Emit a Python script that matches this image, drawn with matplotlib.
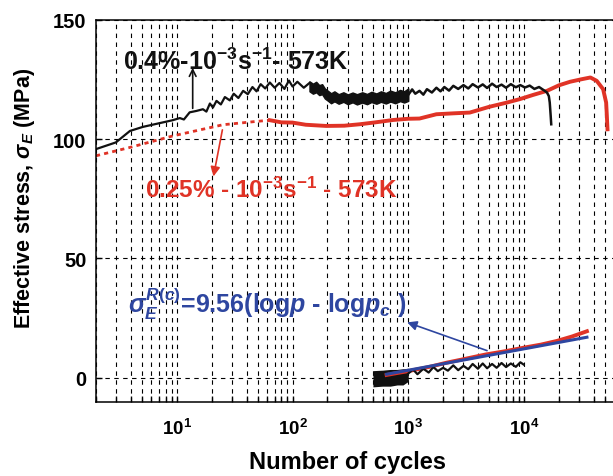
import matplotlib
matplotlib.use('Agg')
import matplotlib.pyplot as plt

# --- data ---
# 0.4 % test, upper curve (cycles, MPa)
black_x = [2, 2.97, 3.93, 5.08, 7.6, 9.2, 10.6, 11.5, 12.9, 14.8, 16.8, 18, 19.3, 20.5, 22, 24, 26,
           28.7, 31, 34, 37.4, 41, 45, 48.8, 53, 58, 63.6, 70, 77, 85, 93, 100, 110, 125, 140]
black_y = [95.8, 98.6, 103.4, 105.1, 107.0, 107.9, 108.8, 108.2, 111.2, 111.8, 112.5, 111.5, 114.9,
           113.2, 116.0, 114.5, 117.6, 116.2, 119.0, 117.2, 120.2, 118.8, 121.8, 120.0, 123.0, 121.2,
           123.7, 121.5, 123.5, 121.0, 124.5, 122.0, 124.0, 121.5, 123.5]
# dense part of the upper black curve (envelope, ragged edges)
band_x = [140, 150, 160, 170, 180, 190, 200, 215, 230, 250, 275, 300, 330, 360, 400, 440, 480, 530,
          580, 640, 700, 770, 850, 920, 1000]
band_lo = [120.0, 119.0, 119.6, 118.4, 118.8, 117.0, 116.2, 115.0, 115.8, 114.8, 115.6, 114.6, 115.4,
           114.5, 115.3, 114.6, 115.5, 114.8, 115.6, 114.9, 115.7, 115.0, 115.9, 115.3, 116.0]
band_hi = [124.2, 123.2, 124.0, 122.6, 123.0, 121.2, 120.4, 119.2, 120.0, 118.8, 119.6, 118.7, 119.5,
           118.8, 119.6, 118.9, 119.8, 119.1, 120.0, 119.3, 120.3, 119.6, 120.6, 120.0, 121.2]
black_x2 = [1000, 1080, 1150, 1250, 1350, 1450, 1600, 1750, 1900, 2050, 2250, 2450, 2700, 3000, 3300,
            3600, 4000, 4400, 4800, 5300, 5800, 6400, 7000, 7700, 8500, 9300, 10200, 11200, 12300,
            13500, 14800, 15800, 16400, 16700, 17000, 17200]
black_y2 = [118.5, 120.8, 119.0, 120.2, 118.6, 120.9, 119.5, 121.5, 120.0, 121.8, 120.3, 122.3, 121.0,
            122.6, 121.2, 123.0, 121.6, 122.9, 121.4, 123.2, 121.8, 122.8, 121.5, 123.0, 121.7, 122.6,
            121.6, 122.4, 121.0, 121.8, 120.5, 119.5, 118.0, 115.3, 110.0, 106.2]

# 0.25 % test, upper curve
red_dot_x = [2, 3.93, 9.2, 25, 48.8, 63.6]
red_dot_y = [93.0, 96.5, 101.3, 106.0, 107.4, 107.9]
red_x = [63.6, 80, 100, 130, 195, 280, 380, 520, 740, 1000, 1250, 1750, 2500, 3400, 5000, 7000, 9160,
         12000, 15800, 20000, 25000, 31000, 37500, 42500, 48300, 51300, 52000, 52700]
red_y = [107.9, 107.0, 106.9, 106.0, 105.5, 105.6, 106.2, 107.0, 108.0, 108.5, 108.6, 110.4, 110.8,
         111.1, 113.5, 115.2, 116.7, 118.5, 120.2, 122.5, 124.0, 125.0, 125.8, 124.4, 120.9, 115.3,
         110.0, 104.1]

# lower curves (R(c) part)
low_band_x = [495, 600, 700, 800, 900, 1000]
low_band_lo = [-3.8, -3.5, -3.5, -3.0, -3.0, -1.5]
low_band_hi = [3.0, 3.2, 3.5, 3.5, 3.8, 4.0]
black_low_x = [1000, 1100, 1200, 1350, 1500, 1650, 1800, 2000, 2200, 2450, 2700, 3000, 3300, 3600,
               4000, 4400, 4800, 5300, 5800, 6400, 7000, 7700, 8500, 9300, 9900]
black_low_y = [1.8, 3.5, 1.5, 3.8, 2.2, 4.5, 2.8, 4.2, 3.0, 5.2, 3.2, 5.0, 3.6, 5.8, 3.8, 6.0, 4.0,
               5.8, 4.2, 6.2, 4.5, 6.0, 4.6, 6.5, 5.6]
red_low_x = [650, 800, 1000, 1500, 2130, 3000, 4700, 7000, 9900, 14000, 19100, 26000, 35000]
red_low_y = [1.2, 2.0, 2.8, 4.5, 6.3, 7.8, 9.8, 11.2, 12.6, 13.9, 15.4, 17.3, 19.5]
fit_x = [650, 35000]
fit_y = [1.5, 17.0]

RED = '#e03326'
BLUE = '#2e46a0'
BLACK = '#111111'

plt.rcParams.update({
    'font.family': 'Liberation Sans',
    'font.weight': 'bold',
    'mathtext.fontset': 'custom',
    'mathtext.rm': 'Liberation Sans:bold',
    'mathtext.it': 'Liberation Sans:italic:bold',
    'mathtext.bf': 'Liberation Sans:bold',
    'mathtext.default': 'rm',
})

fig = plt.figure(figsize=(6.13, 4.77), dpi=100)
ax = fig.add_axes([0.1566, 0.1558, 0.8434, 0.8008])

# upper curves
ax.plot(red_dot_x, red_dot_y, color=RED, lw=2, linestyle=(0, (1.5, 1.5)))
ax.plot(red_x, red_y, color=RED, lw=2.8)
ax.plot(black_x, black_y, color=BLACK, lw=1.6)
ax.fill_between(band_x, band_lo, band_hi, color=BLACK, lw=1.0, edgecolor=BLACK)
ax.plot(black_x2, black_y2, color=BLACK, lw=1.8)

# lower curves
ax.plot(red_low_x, red_low_y, color=RED, lw=2.8)
ax.fill_between(low_band_x, low_band_lo, low_band_hi, color=BLACK, lw=0)
ax.plot(black_low_x, black_low_y, color=BLACK, lw=1.6)
ax.plot(fit_x, fit_y, color=BLUE, lw=2.2)

ax.set_xscale('log')
ax.set_xlim(2, 58800)
ax.set_ylim(-10, 150)
ax.set_yticks([0, 50, 100, 150])

ax.grid(True, which='both', axis='x', color='k', lw=0.8, linestyle=(0, (4, 4)))
ax.grid(True, which='major', axis='y', color='k', lw=0.8, linestyle=(0, (4, 4)))
ax.set_axisbelow(True)

ax.tick_params(axis='both', which='both', direction='in', length=4, width=1)
ax.tick_params(axis='x', which='major', labelsize=13.5, pad=12)
ax.tick_params(axis='y', which='major', labelsize=14.5, pad=7)
ax.spines['right'].set_visible(False)
for s in ['left', 'top', 'bottom']:
    ax.spines[s].set_linewidth(1.1)

fig.text(347.5 / 613, 1 - 463 / 477, 'Number of cycles', ha='center', va='center',
         fontsize=17, fontweight='bold')
fig.text(25 / 613, 1 - 198 / 477, r'Effective stress, $\mathit{\sigma}_{\mathit{E}}$ (MPa)',
         rotation=90, ha='center', va='center', fontsize=15.5, fontweight='bold')

# annotations
ax.text(3.44, 129.3, r'0.4%-$10^{-3}\mathrm{s}^{-1}$- 573K', color=BLACK, fontsize=18,
        fontweight='bold', va='baseline', ha='left')
ax.annotate('', xy=(13.7, 131), xytext=(13.7, 111.7),
            arrowprops=dict(arrowstyle='->', color=BLACK, lw=1.2, mutation_scale=12))

ax.text(5.29, 75.9, r'0.25% - $10^{-3}\mathrm{s}^{-1}$ - 573K', color=RED, fontsize=17.5,
        fontweight='bold', va='baseline', ha='left')
ax.annotate('', xy=(20.5, 83.2), xytext=(25.0, 105.0),
            arrowprops=dict(arrowstyle='-|>', color=RED, lw=1.2, mutation_scale=14))

ax.text(3.79, 27.7,
        r'$\mathit{\sigma}_{\mathit{E}}^{\mathit{R(c)}}$=9.56(log$\mathit{p}$ - log$\mathit{p}_{\mathit{c}}$ )',
        color=BLUE, fontsize=18, fontweight='bold', va='baseline', ha='left')
ax.annotate('', xy=(929, 23.6), xytext=(5050, 11.0),
            arrowprops=dict(arrowstyle='-|>', color=BLUE, lw=1.2, mutation_scale=14))

fig.savefig('out.png', dpi=100)
